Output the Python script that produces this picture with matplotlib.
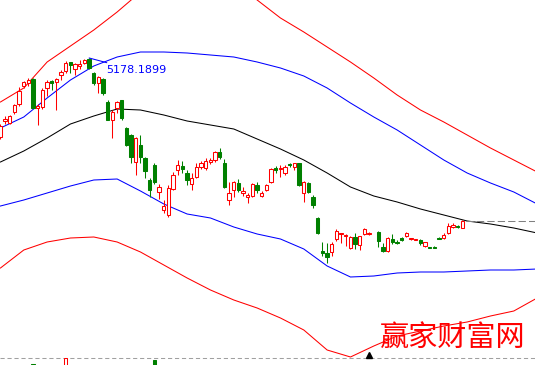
import numpy as np
import matplotlib
matplotlib.use("Agg")
import matplotlib.pyplot as plt

# ---- daily candles (index points) ----
open_ = [4230, 4422, 4398, 4530, 4626, 4842, 4878, 4926, 4578, 4590,
         4818, 4902, 4890, 4974, 5022, 5130, 5046, 5082, 5118, 5166,
         4998, 4878, 4926, 4650, 4434, 4578, 4674, 4338, 4254, 3930,
         4134, 3978, 3714, 3894, 3570, 3354, 3294, 3606, 3834, 3882,
         3798, 3666, 3750, 3870, 3858, 3930, 3954, 4050, 3918, 3474,
         3594, 3678, 3558, 3510, 3522, 3654, 3522, 3594, 3690, 3858,
         3846, 3798, 3906, 3870, 3918, 3558, 3678, 3510, 3258, 2862,
         2838, 2850, 3006, 3066, 3042, 2898, 3030, 2934, 3066, 3066,
         np.nan, 3090, 2910, 2862, 3006, 2970, 3018, 3042, 3012, 3000,
         2994, 2922, 2910, 2910, 3018, 3018, 3078, 3150, 3162, 3138]
high = [4386, 4482, 4494, 4626, 4830, 4902, 4938, 4938, 4626, 4818,
        4914, 4914, 4938, 5034, 5142, 5130, 5118, 5154, 5166, 5178.1899,
        5010, 4962, 4938, 4674, 4554, 4662, 4674, 4350, 4266, 4230,
        4254, 3990, 3738, 3918, 3666, 3474, 3654, 3810, 3954, 3942,
        3834, 3798, 3918, 3942, 3978, 3978, 4062, 4098, 3966, 3690,
        3702, 3726, 3630, 3558, 3678, 3690, 3582, 3666, 3858, 3882,
        3894, 3894, 3918, 3918, 3918, 3702, 3690, 3534, 3270, 2970,
        2958, 2970, 3126, 3078, 3066, 3042, 3078, 3042, 3138, 3090,
        np.nan, 3102, 2958, 3030, 3066, 2994, 3030, 3090, 3018, 3006,
        3006, 2970, 2910, 2922, 3030, 3078, 3198, 3198, 3174, 3234]
low = [4206, 4386, 4386, 4506, 4602, 4818, 4842, 4578, 4374, 4566,
       4722, 4794, 4554, 4914, 4998, 4998, 4974, 5046, 5106, 5046,
       4854, 4758, 4734, 4434, 4218, 4518, 4434, 4122, 3918, 3774,
       3918, 3738, 3510, 3666, 3486, 3318, 3270, 3594, 3774, 3798,
       3654, 3594, 3738, 3846, 3834, 3906, 3930, 3966, 3618, 3414,
       3510, 3570, 3522, 3438, 3510, 3558, 3510, 3582, 3678, 3798,
       3750, 3774, 3870, 3834, 3642, 3450, 3558, 3378, 3066, 2802,
       2718, 2802, 2982, 2958, 2922, 2886, 2886, 2874, 3054, 3054,
       np.nan, 2910, 2850, 2850, 2946, 2946, 2982, 3030, 2994, 3000,
       2934, 2910, 2898, 2904, 3012, 3006, 3066, 3138, 3138, 3138]
close = [4362, 4446, 4482, 4614, 4782, 4890, 4914, 4578, 4602, 4794,
         4890, 4878, 4926, 5010, 5118, 5094, 5106, 5106, 5154, 5058,
         4878, 4950, 4758, 4434, 4530, 4650, 4458, 4134, 3990, 4218,
         3990, 3822, 3594, 3690, 3630, 3402, 3618, 3774, 3894, 3846,
         3714, 3738, 3870, 3918, 3942, 3954, 4050, 3990, 3630, 3558,
         3690, 3594, 3582, 3534, 3666, 3594, 3558, 3654, 3846, 3834,
         3858, 3870, 3894, 3918, 3654, 3690, 3570, 3414, 3078, 2838,
         2790, 2946, 3102, 3078, 3054, 3030, 2946, 3042, 3126, 3078,
         np.nan, 2982, 2862, 3018, 2970, 2964, 2994, 3078, 3018, 3006,
         2958, 2970, 2904, 2904, 3012, 3054, 3162, 3174, 3150, 3222]

# ---- band lines, sampled every 5 bars ----
band_idx = list(range(0, 120, 5))
mid_line = [3930, 4062, 4218, 4386, 4482, 4566, 4554, 4494, 4422, 4374, 4326, 4206,
            4086, 3954, 3798, 3630, 3522, 3450, 3366, 3294, 3222, 3186, 3138, 3078]
upper_blue = [4338, 4470, 4698, 4914, 5082, 5190, 5250, 5250, 5238, 5214, 5190, 5130,
              5058, 4962, 4818, 4638, 4470, 4314, 4134, 3954, 3798, 3678, 3570, 3426]
lower_blue = [3402, 3474, 3558, 3642, 3714, 3726, 3582, 3426, 3306, 3258, 3150, 3066,
              3006, 2886, 2682, 2550, 2562, 2598, 2610, 2610, 2622, 2634, 2634, 2646]
upper_red = [4650, 4818, 5130, 5322, 5514, 5730, 5970, 6174, 6294, 6294, 6114, 5874,
             5658, 5490, 5310, 5130, 4938, 4734, 4554, 4410, 4254, 4098, 3954, 3810]
lower_red = [2658, 2874, 2970, 3018, 3030, 2970, 2850, 2694, 2538, 2394, 2274, 2178,
             2058, 1914, 1674, 1590, 1722, 1842, 1902, 1962, 2010, 2082, 2142, 2298]

# ---- volume panel (only the tallest bars are visible) ----
vol_idx = [7, 14, 33]
vol_val = [9.9, 11.0, 10.6]
vol_up = [False, True, False]

panel_sep = 1578       # level of the dashed separator
marker_idx = 79
watermark = "赢家财富网"

RED = "#ff0000"
GREEN = "#008000"
BLUE = "#0000ff"

fig = plt.figure(figsize=(5.35, 3.65), dpi=100)
ax = fig.add_axes([0, 0, 1, 1])
ax.set_xlim(-0.1, 114.54)
ax.set_ylim(1494, 5874)
ax.axis("off")

lw = 0.75
ax.plot(band_idx, upper_red, color=RED, lw=lw, zorder=1)
ax.plot(band_idx, lower_red, color=RED, lw=lw, zorder=1)
ax.plot(band_idx, upper_blue, color=BLUE, lw=lw, zorder=1)
ax.plot(band_idx, lower_blue, color=BLUE, lw=lw, zorder=1)
ax.plot(band_idx, mid_line, color="black", lw=lw, zorder=1)

for i, (o, h, l, c) in enumerate(zip(open_, high, low, close)):
    if np.isnan(o):
        continue
    up = c >= o
    col = RED if up else GREEN
    ax.vlines(i, l, h, color=col, lw=lw, zorder=2)
    ax.bar(i, max(abs(c - o), 1), bottom=min(o, c), width=0.72,
           facecolor="white" if up else GREEN, edgecolor=col,
           linewidth=lw, zorder=3)

# last close dashed line
ax.hlines(close[-1], len(close) - 0.3, 115, colors="#808080",
          linestyles=(0, (7, 3)), lw=0.75, zorder=1)

# max annotation
imax = int(np.nanargmax(high))
ax.annotate(f"{high[imax]:.4f}", xy=(imax, high[imax]), xytext=(12, -9),
            textcoords="offset points", ha="left", va="center",
            fontsize=8, color=BLUE,
            arrowprops=dict(arrowstyle="-", color=BLUE, lw=0.75,
                            shrinkA=0, shrinkB=0))

# separator + marker
ax.axhline(panel_sep, color="#a0a0a0", lw=0.75, ls=(0, (4, 2.7)), zorder=1)
ax.plot([marker_idx], [panel_sep + 42], marker="^", color="black",
        markersize=5, zorder=4)

# volume panel
vax = fig.add_axes([0, -53 / 365, 1, 60 / 365])
vax.set_xlim(-0.1, 114.54)
vax.set_ylim(0, max(vol_val))
vax.axis("off")
for i, v, u in zip(vol_idx, vol_val, vol_up):
    vax.bar(i, v, width=0.72, facecolor="white" if u else GREEN,
            edgecolor=RED if u else GREEN, linewidth=lw)

fig.text(453 / 535, 1 - 338 / 365, watermark, color=RED, fontsize=21,
         fontweight="light",
         family=["Noto Sans CJK SC", "DejaVu Sans"], ha="center", va="center")

fig.savefig("out.png", dpi=100)
